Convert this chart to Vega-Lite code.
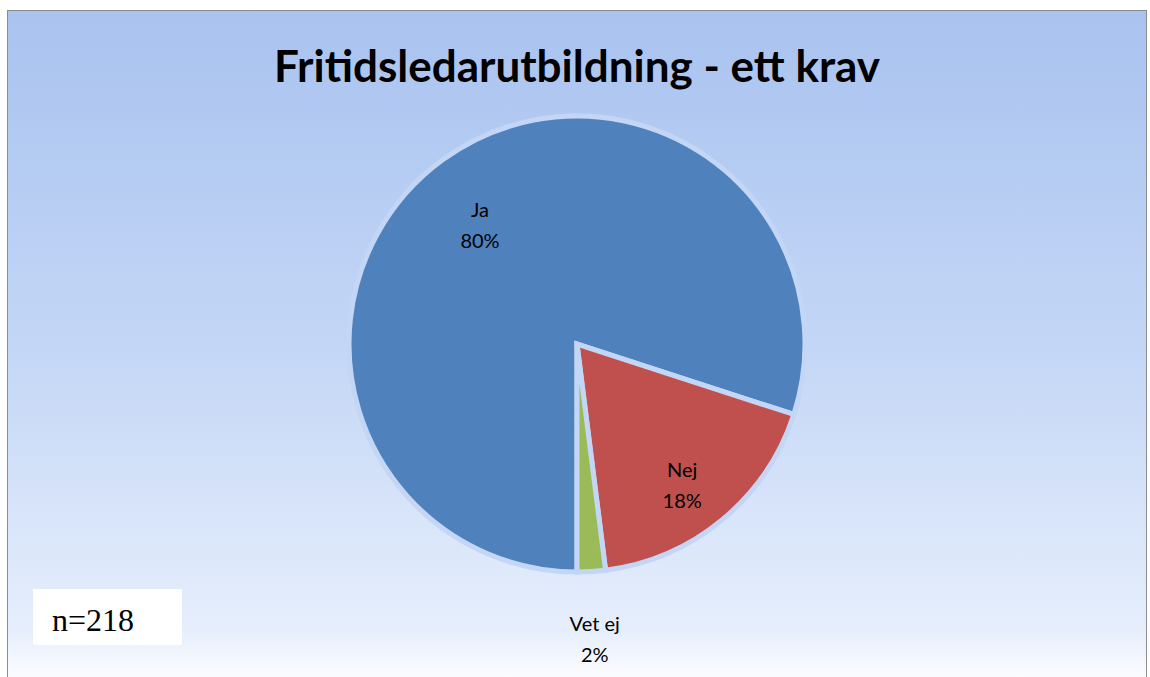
{
  "$schema": "https://vega.github.io/schema/vega-lite/v6.json",
  "width": 1150,
  "height": 677,
  "autosize": {"type": "fit", "contains": "padding"},
  "padding": {"left": 8, "top": 11, "right": 4, "bottom": 0},
  "background": "#ffffff",
  "config": {"view": {"stroke": "#8c8c8c", "strokeWidth": 2}},
  "title": {
    "text": "Fritidsledarutbildning - ett krav",
    "font": "Lato",
    "fontSize": 44,
    "fontWeight": "bold",
    "color": "#000000",
    "anchor": "middle",
    "frame": "group",
    "baseline": "top",
    "offset": -80
  },
  "data": {
    "values": [
      {"svar": "Ja", "andel": 80},
      {"svar": "Nej", "andel": 18},
      {"svar": "Vet ej", "andel": 2}
    ]
  },
  "layer": [
    {
      "data": {"values": [{}]},
      "mark": {
        "type": "rect",
        "fill": {
          "gradient": "linear",
          "x1": 0, "y1": 0, "x2": 0, "y2": 1,
          "stops": [
            {"offset": 0, "color": "#a9c3ef"},
            {"offset": 0.5, "color": "#c3d6f6"},
            {"offset": 0.93, "color": "#e6eefc"},
            {"offset": 1, "color": "#fbfcff"}
          ]
        }
      },
      "encoding": {}
    },
    {
      "mark": {"type": "arc", "outerRadius": 228, "stroke": "#c3d6f6", "strokeWidth": 5},
      "encoding": {
        "theta": {"field": "andel", "type": "quantitative", "stack": true, "scale": {"range": [3.14159, 9.42478]}},
        "color": {
          "field": "svar",
          "type": "nominal",
          "scale": {"domain": ["Ja", "Nej", "Vet ej"], "range": ["#4f81bd", "#c0504d", "#9bbb59"]},
          "legend": null
        },
        "order": {"field": "svar", "sort": "ascending"}
      }
    },
    {
      "transform": [{"calculate": "datum.svar + '\\n' + datum.andel + '%'", "as": "etikett"}],
      "mark": {"type": "text", "font": "Lato", "fontSize": 20, "color": "#000000", "lineBreak": "\n", "lineHeight": 31, "baseline": "middle"},
      "encoding": {
        "theta": {"field": "andel", "type": "quantitative", "stack": true},
        "order": {"field": "svar", "sort": "ascending"},
        "radius": {"value": {"expr": "datum.svar === 'Vet ej' ? 282 : 165"}},
        "text": {"field": "etikett"}
      }
    },
    {
      "data": {"values": [{"not": "n=218"}]},
      "mark": {"type": "rect", "fill": "#ffffff"},
      "encoding": {"x": {"value": 25}, "x2": {"value": 174}, "y": {"value": 578}, "y2": {"value": 634}}
    },
    {
      "data": {"values": [{"not": "n=218"}]},
      "mark": {"type": "text", "font": "Liberation Serif", "fontSize": 32, "color": "#000000", "align": "left", "baseline": "alphabetic"},
      "encoding": {"x": {"value": 44}, "y": {"value": 620}, "text": {"field": "not"}}
    }
  ]
}
